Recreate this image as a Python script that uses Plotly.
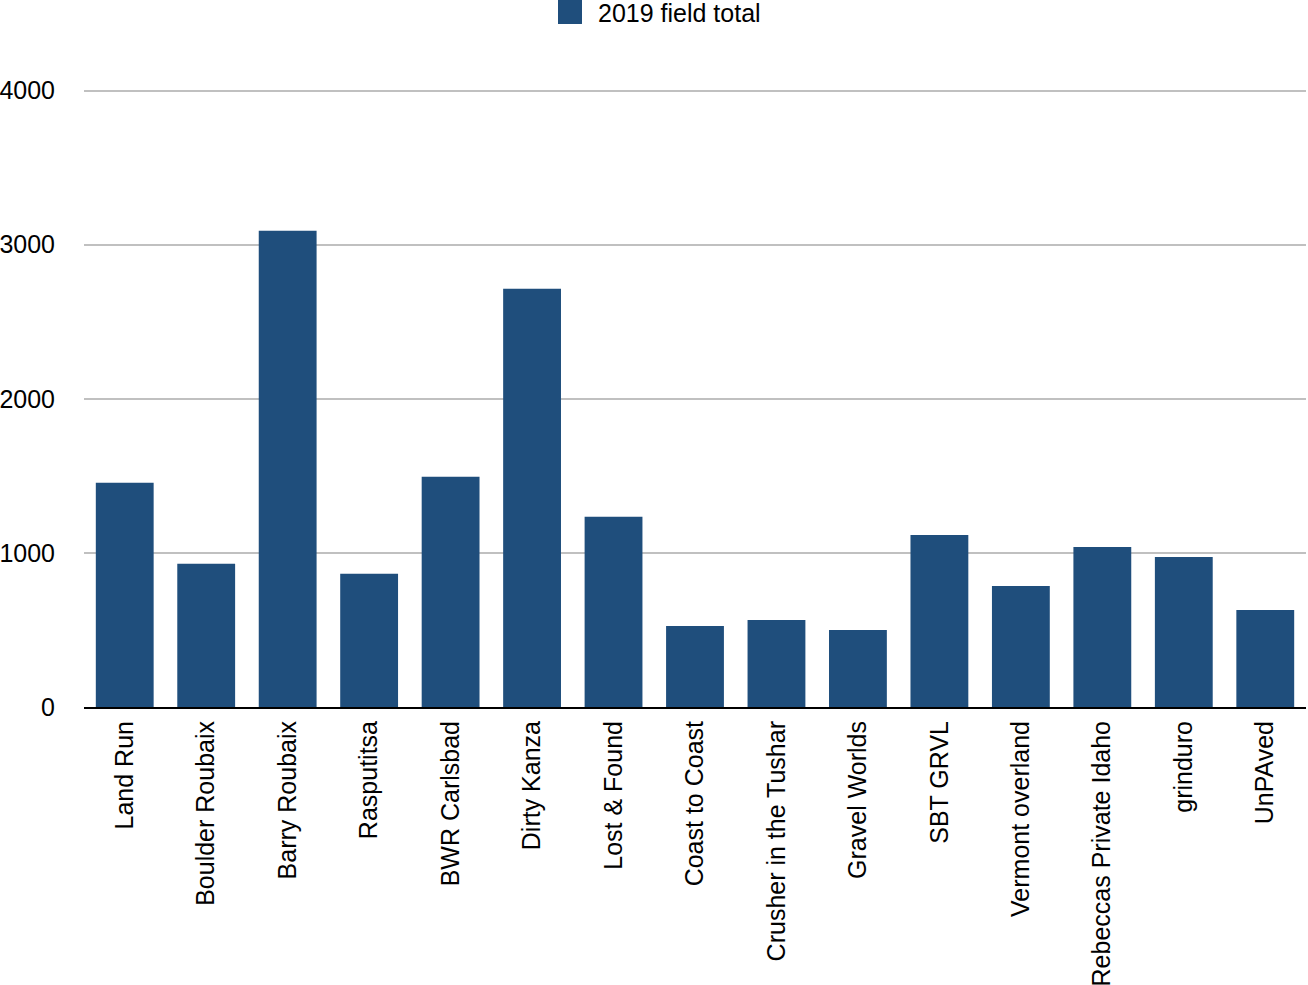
import plotly.graph_objects as go

events = [
    "Land Run", "Boulder Roubaix", "Barry Roubaix", "Rasputitsa", "BWR Carlsbad",
    "Dirty Kanza", "Lost & Found", "Coast to Coast", "Crusher in the Tushar",
    "Gravel Worlds", "SBT GRVL", "Vermont overland", "Rebeccas Private Idaho",
    "grinduro", "UnPAved",
]
field_2019 = [1455, 929, 3091, 864, 1494, 2714, 1234, 526, 565, 500, 1117, 786, 1039, 974, 630]

y_ticks = [0, 1000, 2000, 3000, 4000]
series_name = "2019 field total"

FONT = "Liberation Sans, Arial, sans-serif"
BAR_COLOR = "#1f4e7c"

fig = go.Figure()
fig.add_trace(
    go.Bar(
        name=series_name,
        x=events,
        y=field_2019,
        marker=dict(color=BAR_COLOR, line=dict(width=0)),
        showlegend=False,
    )
)

# legend drawn by hand so the swatch can be as big as in the original
fig.add_shape(
    type="rect",
    xref="paper", yref="paper",
    xsizemode="pixel", ysizemode="pixel",
    xanchor=0.3977, yanchor=1.1192,
    x0=-12, x1=12, y0=-12, y1=12,
    fillcolor=BAR_COLOR,
    line=dict(width=0),
)
fig.add_annotation(
    text=series_name,
    xref="paper", yref="paper",
    x=0.4195, y=1.1176,
    xanchor="left", yanchor="middle",
    showarrow=False,
    borderpad=0,
    font=dict(size=25),
)

fig.update_layout(
    width=1308,
    height=985,
    margin=dict(l=84, r=2, t=86, b=278),
    plot_bgcolor="white",
    paper_bgcolor="white",
    font=dict(family=FONT, size=25, color="black"),
    bargap=0.29,
)
fig.update_xaxes(
    tickangle=-90,
    showgrid=False,
    showline=True,
    linecolor="black",
    linewidth=2,
    ticks="",
    ticklabelstandoff=2,
    automargin=False,
)
fig.update_yaxes(
    range=[0, 4030],
    tickvals=y_ticks,
    showgrid=True,
    gridcolor="#c0c0c0",
    gridwidth=2,
    zeroline=False,
    ticks="",
    ticklabelstandoff=28,
    automargin=False,
)

# drop the browser's default 8px page margin
fig.write_html(
    "out.html",
    config={"displayModeBar": False},
    post_script="document.body.style.margin='0';",
)
